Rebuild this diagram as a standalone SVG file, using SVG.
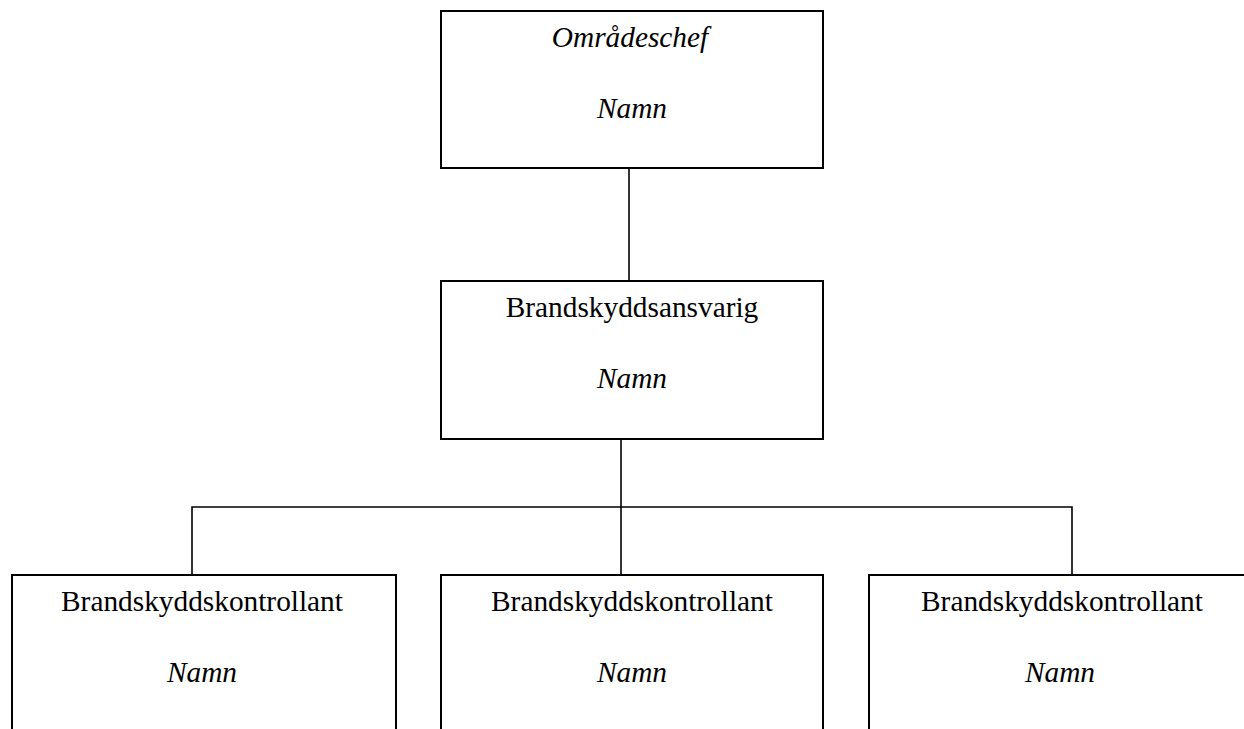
<svg xmlns="http://www.w3.org/2000/svg" width="1244" height="729" viewBox="0 0 1244 729">
<style>
.box{fill:#fff;stroke:#000;stroke-width:2}
.t{font-family:"Liberation Serif","Times New Roman",serif;font-size:29.33px;text-anchor:middle;fill:#000}
.i{font-style:italic}
.c{stroke:#000;stroke-width:1.6;fill:none}
</style>
<rect width="1244" height="729" fill="#fff"/>
<g id="connectors">
<line class="c" x1="629" y1="168" x2="629" y2="281"/>
<line class="c" x1="621" y1="439" x2="621" y2="575"/>
<polyline class="c" points="192,575 192,507 1072,507 1072,575"/>
</g>
<g id="omradeschef">
<rect class="box" x="441" y="11" width="382" height="157"/>
<text class="t i" x="630" y="47">Områdeschef</text>
<text class="t i" x="632" y="118">Namn</text>
</g>
<g id="brandskyddsansvarig">
<rect class="box" x="441" y="281" width="382" height="158"/>
<text class="t" x="632" y="317">Brandskyddsansvarig</text>
<text class="t i" x="632" y="388">Namn</text>
</g>
<g id="kontrollant1">
<rect class="box" x="12" y="575" width="384" height="170"/>
<text class="t" x="202" y="611">Brandskyddskontrollant</text>
<text class="t i" x="202" y="682">Namn</text>
</g>
<g id="kontrollant2">
<rect class="box" x="441" y="575" width="382" height="170"/>
<text class="t" x="632" y="611">Brandskyddskontrollant</text>
<text class="t i" x="632" y="682">Namn</text>
</g>
<g id="kontrollant3">
<rect class="box" x="869" y="575" width="386" height="170"/>
<text class="t" x="1062" y="611">Brandskyddskontrollant</text>
<text class="t i" x="1060" y="682">Namn</text>
</g>
</svg>
